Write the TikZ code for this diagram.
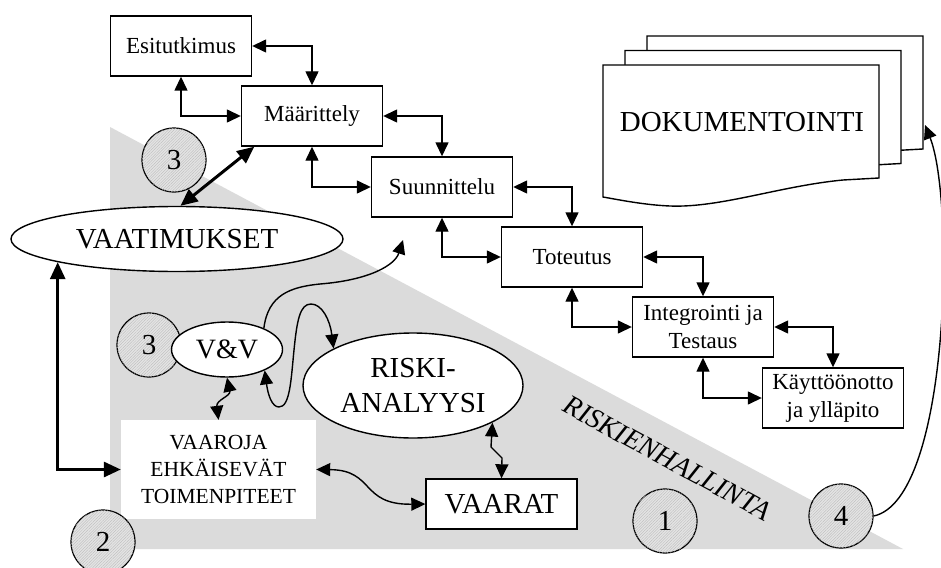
\documentclass[tikz,border=0pt]{standalone}
\usepackage{fontspec}
\setmainfont{Liberation Serif}
\usetikzlibrary{arrows.meta,shapes.geometric,patterns.meta}

\tikzset{
  stage/.style={draw, line width=1.4pt, fill=white, minimum width=141pt,
    minimum height=60pt, inner sep=0pt, align=center,
    font=\fontsize{23}{28}\selectfont},
  oval/.style={ellipse, draw, line width=1.4pt, fill=white, inner sep=0pt,
    align=center, font=\fontsize{29}{35}\selectfont},
  badge/.style={circle, draw, line width=1.2pt, fill=black!11,
    postaction={pattern={Lines[angle=45,distance=2pt,line width=0.3pt]},
      pattern color=black!28},
    minimum size=64pt, inner sep=0pt, font=\fontsize{29}{29}\selectfont},
  link/.style={line width=1.4pt,
    {Triangle[length=14pt,width=13pt]}-{Triangle[length=14pt,width=13pt]}},
  flow/.style={line width=1.4pt, -{Triangle[length=14pt,width=13pt]}},
  heavy/.style={line width=3pt,
    {Triangle[length=17pt,width=15pt]}-{Triangle[length=17pt,width=15pt]}},
  sheet/.style={fill=white, draw, line width=1.4pt},
}

\begin{document}
\begin{tikzpicture}[x=1pt,y=-1pt]
  \useasboundingbox (0,0) rectangle (941,567);
  \fill[white] (0,0) rectangle (941,567);

  % risk management wedge
  \fill[black!14] (110,127) -- (110,549) -- (903,549) -- cycle;
  \node[rotate=-28.5, font=\fontsize{28}{28}\selectfont\itshape]
    (rh) at (667,458) {RISKIENHALLINTA};

  % stacked documentation sheets
  \foreach \dx/\dy in {44/-29, 22/-14.5, 0/0} {
    \begin{scope}[shift={(\dx,\dy)}]
      \path[sheet] (603,65) -- (879,65) -- (879,178) -- (843,180)
        .. controls (780,186) and (720,208) .. (670,206)
        .. controls (645,205) and (620,200) .. (603,197) -- cycle;
    \end{scope}
  }
  \node[font=\fontsize{29}{29}\selectfont] (doc) at (742,122) {DOKUMENTOINTI};
  \coordinate (doctip) at (925,125);

  % life-cycle phases
  \node[stage] (esi)   at (181,46)  {Esitutkimus};
  \node[stage] (maar)  at (312,116) {Määrittely};
  \node[stage] (suun)  at (442,187) {Suunnittelu};
  \node[stage] (tot)   at (572,257) {Toteutus};
  \node[stage] (integ) at (703,327) {Integrointi ja\\Testaus};
  \node[stage] (kayt)  at (833,398) {Käyttöönotto\\ja ylläpito};

  \draw[link] (esi.east)   -| (maar.north);
  \draw[link] (esi.south)  |- (maar.west);
  \draw[link] (maar.east)  -| (suun.north);
  \draw[link] (maar.south) |- (suun.west);
  \draw[link] (suun.east)  -| (tot.north);
  \draw[link] (suun.south) |- (tot.west);
  \draw[link] (tot.east)   -| (integ.north);
  \draw[link] (tot.south)  |- (integ.west);
  \draw[link] (integ.east) -| (kayt.north);
  \draw[link] (integ.south) |- (kayt.west);

  % numbered markers
  \node[badge] (c3a) at (174,160) {3};
  \node[badge] (c3b) at (149,345) {3};
  \node[badge] (c1)  at (665,521) {1};
  \node[badge] (c4)  at (841,516) {4};

  % safety activities
  \node[oval, minimum width=332pt, minimum height=65pt] (vaat) at (177,239) {VAATIMUKSET};
  \node[oval, minimum width=111pt, minimum height=55pt, font=\fontsize{28}{28}\selectfont]
    (vv) at (227,349.5) {V\&V};
  \node[oval, minimum width=220pt, minimum height=105pt] (riski) at (413,385.5) {RISKI-\\ANALYYSI};
  \node[fill=white, minimum width=195pt, minimum height=99pt, inner sep=0pt,
    align=center, font=\fontsize{21.5}{27}\selectfont]
    (vaaroja) at (218.5,469.5) {VAAROJA\\EHKÄISEVÄT\\TOIMENPITEET};
  \node[draw, line width=1.4pt, fill=white, minimum width=151pt, minimum height=50pt,
    inner sep=0pt, font=\fontsize{29}{29}\selectfont] (vaarat) at (501.5,504) {VAARAT};
  \node[badge] (c2) at (103,542) {2};

  % connections between the activities
  \draw[heavy] (maar.208) -- (vaat.84);
  \draw[heavy] (vaat.191) |- (vaaroja.west);
  \draw[link] (vv.south) .. controls (231,396) and (216,400) .. (vaaroja.north);
  \draw[link] (vaaroja.east) .. controls (375,470) and (360,505) .. (vaarat.west);
  \draw[link] (riski.335) -- (491,447) -- (502,458) -- (vaarat.north);

  \coordinate (suntip) at (403,240);
  \draw[flow] (vv.30) .. controls (268,295) and (290,287) .. (320,284)
    .. controls (370,280) and (395,265) .. (suntip);
  \draw[link] (vv.331) .. controls (268,395) and (272,407) .. (279,407)
    .. controls (290,407) and (291,380) .. (294,350)
    .. controls (297,320) and (300,304) .. (311,304)
    .. controls (322,304) and (330,320) .. (riski.155);

  \draw[flow] (c4.east) .. controls (950,500) and (955,200) .. (doctip);
\end{tikzpicture}
\end{document}
